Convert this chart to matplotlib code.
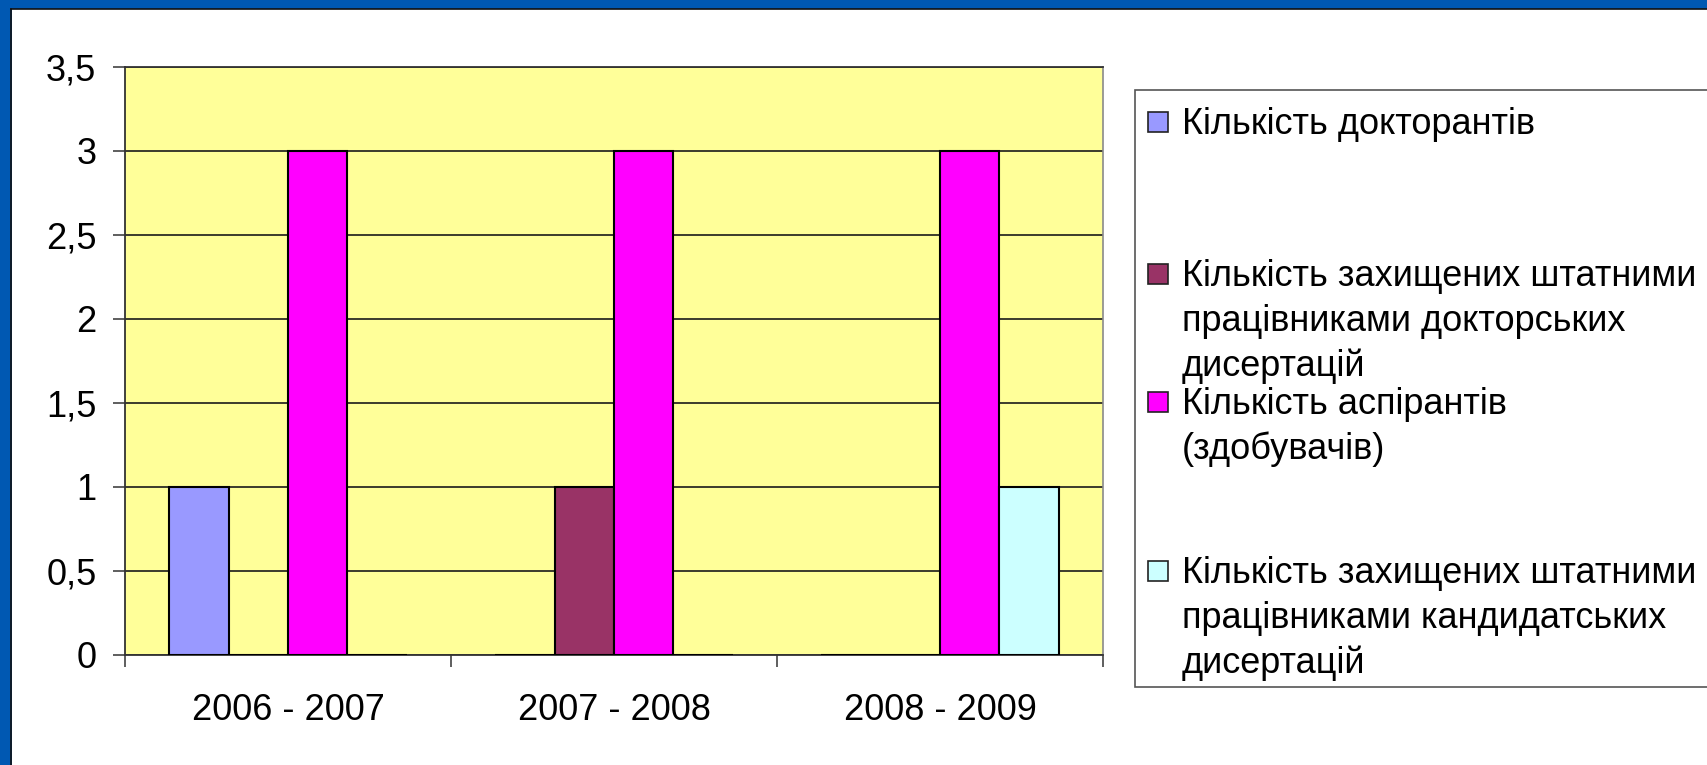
import matplotlib
matplotlib.use("Agg")
import matplotlib.pyplot as plt
from matplotlib.patches import Rectangle
from matplotlib.lines import Line2D
import numpy as np

# ---- data ----
categories = ["2006 - 2007", "2007 - 2008", "2008 - 2009"]
series_labels = [
    "Кількість докторантів",
    "Кількість захищених штатними\nпрацівниками докторських\nдисертацій",
    "Кількість аспірантів\n(здобувачів)",
    "Кількість захищених штатними\nпрацівниками кандидатських\nдисертацій",
]
doctoral_students = [1, 0, 0]
defended_doctoral = [0, 1, 0]
postgraduates = [3, 3, 3]
defended_candidate = [0, 0, 1]
series_values = [doctoral_students, defended_doctoral, postgraduates, defended_candidate]
series_colors = ["#9999FF", "#993366", "#FF00FF", "#CCFFFF"]
y_ticks = [0, 0.5, 1, 1.5, 2, 2.5, 3, 3.5]
y_tick_labels = ["0", "0,5", "1", "1,5", "2", "2,5", "3", "3,5"]

W, H = 1708, 765
FS = 26
plt.rcParams['font.family'] = ['Liberation Sans', 'DejaVu Sans']
fig = plt.figure(figsize=(W / 100, H / 100), dpi=100)
fig.patch.set_facecolor("#0058B2")


def fx(x):
    return x / W


def fy(y):
    return 1 - y / H


# white slide panel
fig.add_artist(Rectangle((fx(12), 0), 1 - fx(12), fy(9), transform=fig.transFigure,
                         facecolor="white", edgecolor="none", zorder=0))
fig.add_artist(Line2D([fx(11), 1], [fy(8.5), fy(8.5)], transform=fig.transFigure,
                      color="#111111", lw=1.2, zorder=1))
fig.add_artist(Line2D([fx(11.5), fx(11.5)], [0, fy(8.5)], transform=fig.transFigure,
                      color="#111111", lw=1.2, zorder=1))

# plot area
left, right, top, bottom = 125, 1103, 67, 655
ax = fig.add_axes([fx(left), fy(bottom), fx(right - left), (bottom - top) / H])
ax.set_facecolor("#FFFF99")

n = len(series_values)
w = 1 / (n + 1.5)
x = np.arange(len(categories))
for j, (vals, col) in enumerate(zip(series_values, series_colors)):
    offs = (-n / 2 + j + 0.5) * w
    ax.bar(x + offs, vals, width=w, color=col, edgecolor="black", linewidth=1.5, zorder=3)

ax.set_xlim(-0.5, len(categories) - 0.5)
ax.set_ylim(0, 3.5)
ax.set_yticks(y_ticks)
ax.set_yticklabels(y_tick_labels, fontsize=FS)
ax.yaxis.grid(True, color="#1a1a1a", linewidth=1.2, zorder=1)
ax.set_axisbelow(True)

ax.set_xticks(x)
ax.set_xticklabels(categories, fontsize=FS)
ax.set_xticks(np.arange(len(categories) + 1) - 0.5, minor=True)
ax.tick_params(axis="x", which="major", length=0, pad=27)
ax.tick_params(axis="x", which="minor", length=8.6, width=1.1, color="#333333", direction="out")
ax.tick_params(axis="y", which="major", length=8.6, width=1.1, color="#333333", pad=12)

for s in ["left", "bottom", "top"]:
    ax.spines[s].set_color("#333333")
    ax.spines[s].set_linewidth(1.3)
ax.spines["right"].set_color("#8a8a8a")
ax.spines["right"].set_linewidth(1.2)

# legend box (drawn manually to match original layout)
lg_left, lg_top, lg_bottom = 1135, 90, 687
fig.add_artist(Rectangle((fx(lg_left), fy(lg_bottom)), 1.0 - fx(lg_left) + 0.01,
                         (lg_bottom - lg_top) / H, transform=fig.transFigure,
                         facecolor="white", edgecolor="#555555", lw=1.2, zorder=2))
first_baselines = [134, 286, 414, 583]
line_step = 45
for lab, col, b in zip(series_labels, series_colors, first_baselines):
    cy = b - 12
    fig.add_artist(Rectangle((fx(1148), fy(cy + 10)), fx(20), 20 / H,
                             transform=fig.transFigure, facecolor=col,
                             edgecolor="#222222", lw=1.2, zorder=3))
    for k, line in enumerate(lab.split("\n")):
        fig.text(fx(1182), fy(b + k * line_step), line, fontsize=FS,
                 va="baseline", ha="left", color="black", zorder=4)

fig.savefig("out.png", dpi=100, facecolor=fig.get_facecolor())
